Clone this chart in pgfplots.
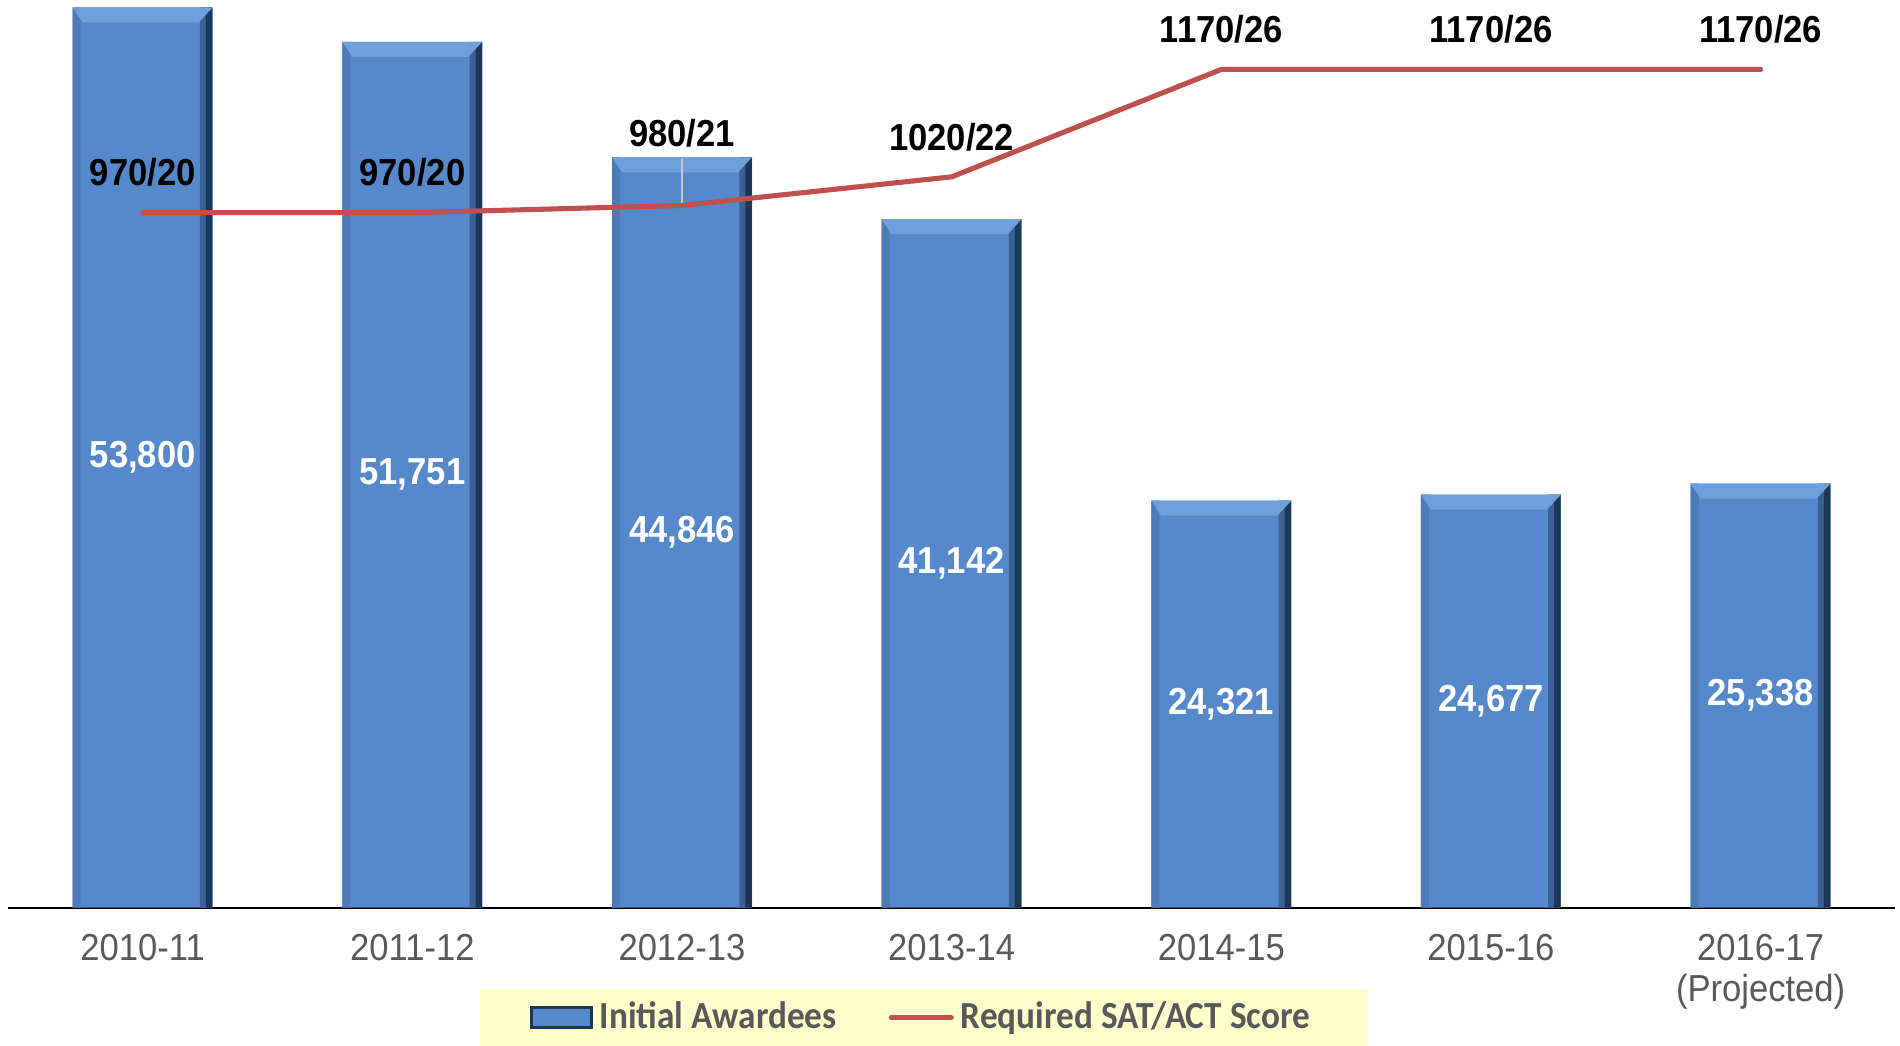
\documentclass[border=0pt]{standalone}
\usepackage{pgfplots}
\pgfplotsset{compat=1.18}
\usepackage{pgfplotstable}
\usepackage{fontspec}
\setmainfont{Liberation Sans}[FakeStretch=0.92]
\newfontfamily\legfont{Carlito}[FakeStretch=0.92]

\definecolor{barmid}{HTML}{5689CB}
\definecolor{barleft}{HTML}{4C7BB8}
\definecolor{bartop}{HTML}{70A0DC}
\definecolor{barshade}{HTML}{3A6196}
\definecolor{barright}{HTML}{1C3656}
\definecolor{linered}{HTML}{C0504D}
\definecolor{ticktext}{HTML}{595959}
\definecolor{legbg}{HTML}{FFFFCC}
\definecolor{baseline}{HTML}{D9D9D9}

\newcommand\chartfont{\fontsize{10.7}{11.7}\selectfont}

% light bevel band on top of each bar
\pgfdeclareplotmark{bevel}{%
  \pgfpathmoveto{\pgfqpoint{-0.7cm}{0pt}}%
  \pgfpathlineto{\pgfqpoint{0.7cm}{0pt}}%
  \pgfpathlineto{\pgfqpoint{0.56cm}{-0.15cm}}%
  \pgfpathlineto{\pgfqpoint{-0.6cm}{-0.15cm}}%
  \pgfpathclose
  \pgfusepathqfill}

% awardees per year
\pgfplotstableread{
x awards lab
0 53800 53,800
1 51751 51,751
2 44846 44,846
3 41142 41,142
4 24321 24,321
5 24677 24,677
6 25338 25,338
}\awards

% required SAT/ACT score
\pgfplotstableread{
x sat lab
0 970 970/20
1 970 970/20
2 980 980/21
3 1020 1020/22
4 1170 1170/26
5 1170 1170/26
6 1170 1170/26
}\scores

\begin{document}
\begin{tikzpicture}
\begin{axis}[
    at={(0,0)}, anchor=north west,
    width=19cm, height=9.075cm, scale only axis,
    xmin=-0.5292, xmax=6.517,
    ymin=0, ymax=54247,
    axis line style={draw=none},
    tick style={draw=none},
    ytick=\empty,
    xtick={0,...,6},
    xticklabels={2010-11,2011-12,2012-13,2013-14,2014-15,2015-16,{2016-17\\(Projected)}},
    xticklabel style={font=\chartfont, text=ticktext, align=center, yshift=-0.14cm},
    clip=false,
]
\draw[baseline, line width=0.02cm] (axis cs:-0.5,0) -- (axis cs:6.5,0);
% bar body and its bevelled edges
\addplot[ybar, bar width=1.4cm, bar shift=0pt, draw=none, fill=barmid]
    table[x=x, y=awards] {\awards};
\addplot[ybar, bar width=0.08cm, bar shift=-0.66cm, draw=none, fill=barleft, forget plot]
    table[x=x, y=awards] {\awards};
\addplot[ybar, bar width=0.065cm, bar shift=0.605cm, draw=none, fill=barshade, forget plot]
    table[x=x, y=awards] {\awards};
\addplot[ybar, bar width=0.065cm, bar shift=0.665cm, draw=none, fill=barright, forget plot]
    table[x=x, y=awards] {\awards};
\addplot[only marks, mark=bevel, mark options={fill=bartop, draw=none}, forget plot]
    table[x=x, y=awards] {\awards};
\addplot[draw=none, mark=none, forget plot,
    nodes near coords, point meta=explicit symbolic,
    every node near coord/.append style={anchor=center, text=white, font=\chartfont\bfseries}]
    table[x=x, y expr=\thisrow{awards}/2, meta=lab] {\awards};
\end{axis}

\begin{axis}[
    at={(0,0)}, anchor=north west,
    width=19cm, height=9.075cm, scale only axis,
    xmin=-0.5292, xmax=6.517,
    ymin=0, ymax=1266.9,
    hide axis,
    clip=false,
    legend columns=2,
    legend style={at={(0.2521,-0.0887)}, anchor=north west,
        fill=legbg, draw=none, text=ticktext,
        font=\legfont\bfseries\fontsize{10.9}{12}\selectfont,
        inner xsep=0.5cm, inner ysep=0.06cm,
        nodes={text depth=0.25cm},
        /tikz/every even column/.append style={column sep=0.45cm}},
]
\addlegendimage{legend image code/.code={
    \draw[fill=barmid, draw=barright, line width=0.9pt] (0cm,0cm) rectangle (0.6cm,0.2cm);}}
\addlegendentry{Initial Awardees}
\draw[gray!45, line width=0.5pt] (axis cs:2,980) -- ([yshift=0.47cm]axis cs:2,980);
\addplot[linered, line width=1.45pt, line cap=round, line join=round,
    legend image post style={yshift=0.1cm},
    nodes near coords, point meta=explicit symbolic,
    every node near coord/.append style={anchor=center, yshift=0.4cm, text=black, font=\chartfont\bfseries},
    coordinate style/.condition={\coordindex==2}{yshift=0.32cm}]
    table[x=x, y=sat, meta=lab] {\scores};
\addlegendentry{Required SAT/ACT Score}
\end{axis}
\node[anchor=north, text=ticktext, font=\chartfont] at (18.39,-10.36) {21};
\pgfresetboundingbox
\path[use as bounding box] (0,0) rectangle (19,-10.45);
\end{tikzpicture}
\end{document}
